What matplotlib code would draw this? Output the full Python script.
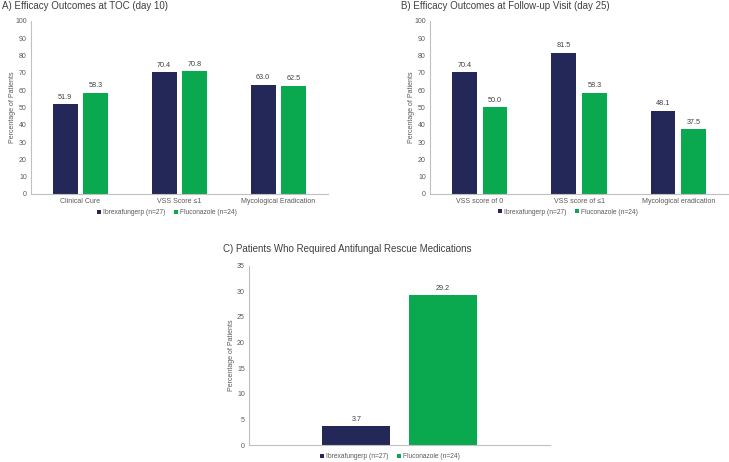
import matplotlib
matplotlib.use("Agg")
import matplotlib.pyplot as plt
import numpy as np

plt.rcParams['font.family'] = ['Liberation Sans', 'DejaVu Sans']

series_names = ["Ibrexafungerp (n=27)", "Fluconazole (n=24)"]
colors = ["#232858", "#0aa84f"]

cats_a = ["Clinical Cure", "VSS Score \u22641", "Mycological Eradication"]
ibrex_a = [51.9, 70.4, 63.0]
fluc_a = [58.3, 70.8, 62.5]

cats_b = ["VSS score of 0", "VSS score of \u22641", "Mycological eradication"]
ibrex_b = [70.4, 81.5, 48.1]
fluc_b = [50.0, 58.3, 37.5]

ibrex_c = [3.7]
fluc_c = [29.2]

title_a = "A) Efficacy Outcomes at TOC (day 10)"
title_b = "B) Efficacy Outcomes at Follow-up Visit (day 25)"
title_c = "C) Patients Who Required Antifungal Rescue Medications"

W, H = 729, 462
fig = plt.figure(figsize=(W / 100, H / 100), dpi=100)

def ax_px(l, r, t, b):
    return fig.add_axes([l / W, 1 - b / H, (r - l) / W, (b - t) / H])

txtc = "#404040"
spc = "#c0c0c0"

def style(ax, ymax, step, labx):
    for s in ["top", "right"]:
        ax.spines[s].set_visible(False)
    for s in ["left", "bottom"]:
        ax.spines[s].set_color(spc)
        ax.spines[s].set_linewidth(0.8)
    ax.set_ylim(0, ymax)
    ax.set_yticks(np.arange(0, ymax + 0.1, step))
    ax.tick_params(axis='both', length=0, labelsize=5, labelcolor="#595959", pad=3)
    ax.set_ylabel("Percentage of Patients", fontsize=5, color="#595959")
    ax.yaxis.set_label_coords(labx, 0.5)

def grouped(ax, cats, s1, s2, off, w, fmt="{:.1f}"):
    x = np.arange(len(cats))
    b1 = ax.bar(x - off, s1, w, color=colors[0], label=series_names[0])
    b2 = ax.bar(x + off, s2, w, color=colors[1], label=series_names[1])
    for bars in (b1, b2):
        for r in bars:
            ax.annotate(fmt.format(r.get_height()), (r.get_x() + r.get_width() / 2, r.get_height()),
                        xytext=(0, 2.5), textcoords="offset points", ha="center", va="bottom",
                        fontsize=5.2, color="#404040")
    ax.set_xlim(-0.5, len(cats) - 0.5)
    return b1, b2

def legend(b1, b2, cx, cy):
    fig.legend([b1, b2], series_names, loc="center", bbox_to_anchor=(cx / W, 1 - cy / H),
               ncol=2, frameon=False, fontsize=4.8, handlelength=0.6, handleheight=0.6,
               handletextpad=0.3, columnspacing=1.3, labelcolor="#595959")

# Panel A
axA = ax_px(31, 328, 20.7, 194)
b1, b2 = grouped(axA, cats_a, ibrex_a, fluc_a, 0.155, 0.25)
style(axA, 100, 10, -0.05)
axA.set_xticks(np.arange(len(cats_a)))
axA.set_xticklabels(cats_a)
fig.text(2 / W, 1 - 6 / H, title_a, fontsize=7, color=txtc, va="center", ha="left")
legend(b1, b2, 167, 213)

# Panel B
axB = ax_px(430, 728, 20.7, 194)
b1, b2 = grouped(axB, cats_b, ibrex_b, fluc_b, 0.155, 0.25)
style(axB, 100, 10, -0.05)
axB.set_xticks(np.arange(len(cats_b)))
axB.set_xticklabels(cats_b)
fig.text(401 / W, 1 - 6 / H, title_b, fontsize=7, color=txtc, va="center", ha="left")
legend(b1, b2, 568, 212)

# Panel C
axC = ax_px(249, 550, 265.7, 445)
b1, b2 = grouped(axC, [""], ibrex_c, fluc_c, 0.143, 0.226)
style(axC, 35, 5, -0.047)
axC.set_xticks([])
fig.text(223 / W, 1 - 249 / H, title_c, fontsize=7, color=txtc, va="center", ha="left")
legend(b1, b2, 390, 457)

fig.savefig("out.png", dpi=100)
